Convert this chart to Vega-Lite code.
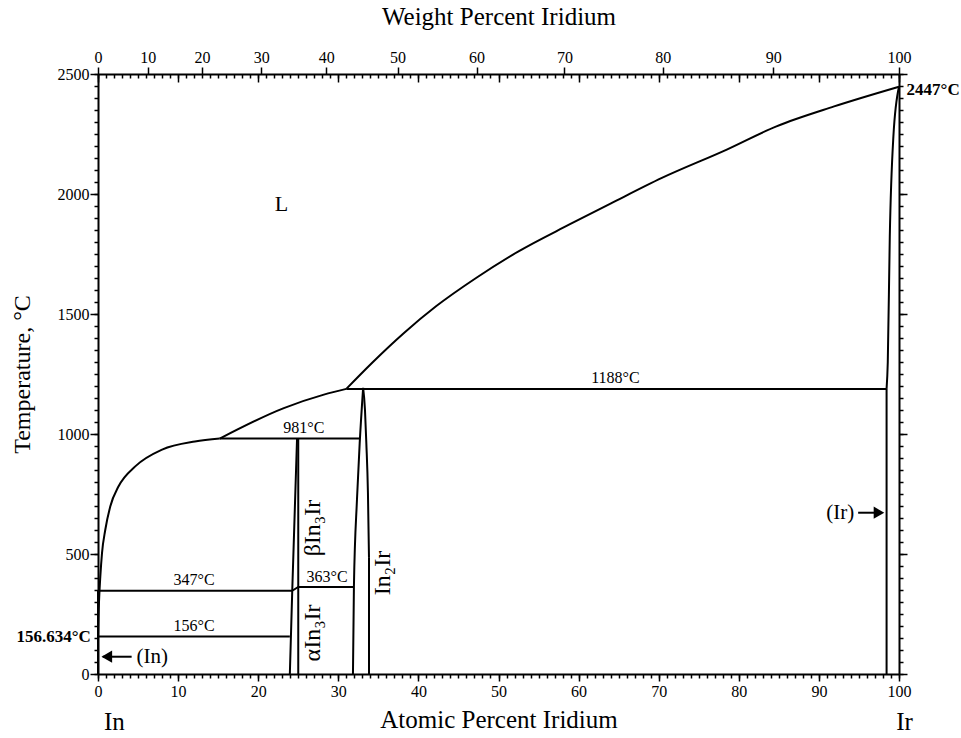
{
  "$schema": "https://vega.github.io/schema/vega-lite/v6.json",
  "width": 801,
  "height": 600,
  "autosize": {"type": "none"},
  "padding": {"left": 98, "top": 74, "right": 62, "bottom": 64},
  "background": "white",
  "config": {
    "view": {"stroke": null},
    "axis": {"grid": false, "domainColor": "black", "tickColor": "black", "labelColor": "black", "titleColor": "black", "labelFont": "Liberation Serif", "titleFont": "Liberation Serif", "titleFontWeight": "normal", "tickWidth": 1.5, "domainWidth": 2, "labelFlush": false, "labelOverlap": false},
    "text": {"font": "Liberation Serif", "color": "black"}
  },
  "datasets": {
    "lines": [
      {"seg": "e1188", "o": 1, "x": 31.0, "t": 1188},
      {"seg": "e1188", "o": 2, "x": 98.45, "t": 1188},
      {"seg": "p981", "o": 1, "x": 15.2, "t": 981},
      {"seg": "p981", "o": 2, "x": 32.6, "t": 981},
      {"seg": "e347", "o": 1, "x": 0, "t": 347},
      {"seg": "e347", "o": 2, "x": 24.25, "t": 347},
      {"seg": "e156", "o": 1, "x": 0, "t": 156},
      {"seg": "e156", "o": 2, "x": 23.95, "t": 156},
      {"seg": "t363", "o": 1, "x": 24.25, "t": 347},
      {"seg": "t363", "o": 2, "x": 25, "t": 363},
      {"seg": "t363", "o": 3, "x": 31.95, "t": 363},
      {"seg": "in3r", "o": 1, "x": 25, "t": 0},
      {"seg": "in3r", "o": 2, "x": 25, "t": 981},
      {"seg": "in3l", "o": 1, "x": 24.85, "t": 981},
      {"seg": "in3l", "o": 2, "x": 24.25, "t": 347},
      {"seg": "in3l", "o": 3, "x": 23.95, "t": 0},
      {"seg": "irv", "o": 1, "x": 98.45, "t": 0},
      {"seg": "irv", "o": 2, "x": 98.45, "t": 1188},
      {"seg": "in2v", "o": 1, "x": 33.83, "t": 0},
      {"seg": "in2v", "o": 2, "x": 33.83, "t": 487},
      {"seg": "inAxis", "o": 1, "x": 0, "t": 0},
      {"seg": "inAxis", "o": 2, "x": 0, "t": 347},
      {"seg": "arIn", "o": 1, "x": 0.6, "t": 72},
      {"seg": "arIn", "o": 2, "x": 4.2, "t": 72},
      {"seg": "arIr", "o": 1, "x": 94.9, "t": 672},
      {"seg": "arIr", "o": 2, "x": 97.2, "t": 672}
    ],
    "curves": [
      {"seg": "liqA", "o": 1, "x": 0, "t": 156.6},
      {"seg": "liqA", "o": 2, "x": 0.05, "t": 230},
      {"seg": "liqA", "o": 3, "x": 0.15, "t": 320},
      {"seg": "liqA", "o": 4, "x": 0.29, "t": 407},
      {"seg": "liqA", "o": 5, "x": 0.5, "t": 504},
      {"seg": "liqA", "o": 6, "x": 0.91, "t": 601},
      {"seg": "liqA", "o": 7, "x": 1.53, "t": 698},
      {"seg": "liqA", "o": 8, "x": 2.57, "t": 782},
      {"seg": "liqA", "o": 9, "x": 4.65, "t": 865},
      {"seg": "liqA", "o": 10, "x": 8.0, "t": 935},
      {"seg": "liqA", "o": 11, "x": 12.1, "t": 969},
      {"seg": "liqA", "o": 12, "x": 15.2, "t": 981},
      {"seg": "liqB", "o": 1, "x": 15.2, "t": 981},
      {"seg": "liqB", "o": 2, "x": 23.2, "t": 1108},
      {"seg": "liqB", "o": 3, "x": 28.2, "t": 1164},
      {"seg": "liqB", "o": 4, "x": 31.0, "t": 1188},
      {"seg": "liqC", "o": 1, "x": 31.0, "t": 1188},
      {"seg": "liqC", "o": 2, "x": 34.2, "t": 1296},
      {"seg": "liqC", "o": 3, "x": 38.2, "t": 1421},
      {"seg": "liqC", "o": 4, "x": 42.2, "t": 1532},
      {"seg": "liqC", "o": 5, "x": 47.2, "t": 1650},
      {"seg": "liqC", "o": 6, "x": 52.5, "t": 1761},
      {"seg": "liqC", "o": 7, "x": 58.8, "t": 1872},
      {"seg": "liqC", "o": 8, "x": 64.1, "t": 1962},
      {"seg": "liqC", "o": 9, "x": 70.4, "t": 2067},
      {"seg": "liqC", "o": 10, "x": 78.5, "t": 2185},
      {"seg": "liqC", "o": 11, "x": 84.7, "t": 2282},
      {"seg": "liqC", "o": 12, "x": 91.9, "t": 2365},
      {"seg": "liqC", "o": 13, "x": 100, "t": 2447},
      {"seg": "irc", "o": 1, "x": 98.45, "t": 1188},
      {"seg": "irc", "o": 2, "x": 98.6, "t": 1300},
      {"seg": "irc", "o": 3, "x": 98.85, "t": 1823},
      {"seg": "irc", "o": 4, "x": 99.3, "t": 2240},
      {"seg": "irc", "o": 5, "x": 100, "t": 2447},
      {"seg": "in2L", "o": 1, "x": 31.83, "t": 0},
      {"seg": "in2L", "o": 2, "x": 31.95, "t": 363},
      {"seg": "in2L", "o": 3, "x": 32.33, "t": 726},
      {"seg": "in2L", "o": 4, "x": 32.67, "t": 962},
      {"seg": "in2L", "o": 5, "x": 33.1, "t": 1192},
      {"seg": "in2R", "o": 1, "x": 33.1, "t": 1192},
      {"seg": "in2R", "o": 2, "x": 33.33, "t": 1101},
      {"seg": "in2R", "o": 3, "x": 33.5, "t": 962},
      {"seg": "in2R", "o": 4, "x": 33.7, "t": 755},
      {"seg": "in2R", "o": 5, "x": 33.83, "t": 487}
    ],
    "temps": [
      {"label": "1188°C", "x": 64.6, "t": 1211},
      {"label": "981°C", "x": 25.7, "t": 1003},
      {"label": "347°C", "x": 12.0, "t": 371},
      {"label": "156°C", "x": 12.0, "t": 180},
      {"label": "363°C", "x": 28.6, "t": 382}
    ],
    "phases": [
      {"label": "βIn₃Ir", "x": 26.9, "t": 608},
      {"label": "αIn₃Ir", "x": 26.9, "t": 171},
      {"label": "In₂Ir", "x": 35.6, "t": 421}
    ],
    "heads": [
      {"dir": "L", "x": 1.1, "t": 72},
      {"dir": "R", "x": 97.5, "t": 672}
    ]
  },
  "resolve": {"axis": {"x": "independent", "y": "independent"}},
  "layer": [
    {
      "data": {"name": "lines"},
      "mark": {"type": "line", "color": "black", "strokeWidth": 2, "clip": false},
      "encoding": {
        "x": {"field": "x", "type": "quantitative", "scale": {"domain": [0, 100], "nice": false, "zero": false},
          "axis": {"orient": "bottom", "values": [0, 10, 20, 30, 40, 50, 60, 70, 80, 90, 100], "tickSize": 7, "labelFontSize": 16, "labelPadding": 2, "title": "Atomic Percent Iridium", "titleFontSize": 25, "titlePadding": 8}},
        "y": {"field": "t", "type": "quantitative", "scale": {"domain": [0, 2500], "nice": false, "zero": false},
          "axis": {"orient": "left", "values": [0, 500, 1000, 1500, 2000, 2500], "format": "d", "tickSize": 8, "labelFontSize": 16, "labelPadding": 1, "title": "Temperature, °C", "titleFontSize": 24, "titlePadding": 23}},
        "detail": {"field": "seg", "type": "nominal"},
        "order": {"field": "o", "type": "quantitative"}
      }
    },
    {
      "data": {"name": "curves"},
      "mark": {"type": "line", "color": "black", "strokeWidth": 2, "interpolate": "monotone", "clip": false},
      "encoding": {
        "x": {"field": "x", "type": "quantitative", "axis": null},
        "y": {"field": "t", "type": "quantitative", "axis": null},
        "detail": {"field": "seg", "type": "nominal"},
        "order": {"field": "o", "type": "quantitative"}
      }
    },
    {
      "data": {"name": "temps"},
      "mark": {"type": "text", "fontSize": 16, "align": "center", "baseline": "alphabetic"},
      "encoding": {
        "x": {"field": "x", "type": "quantitative", "axis": {"orient": "bottom", "tickCount": 100, "tickSize": 4, "labels": false, "domain": false, "title": null}},
        "y": {"field": "t", "type": "quantitative", "axis": {"orient": "left", "tickCount": 50, "tickSize": 4, "labels": false, "domain": false, "title": null}},
        "text": {"field": "label"}
      }
    },
    {
      "data": {"values": [{"label": "L", "x": 22.9, "t": 1929}]},
      "mark": {"type": "text", "fontSize": 22, "align": "center", "baseline": "alphabetic"},
      "encoding": {
        "x": {"field": "x", "type": "quantitative", "axis": {"orient": "top", "values": [0, 10, 20, 30, 40, 50, 60, 70, 80, 90, 100], "tickSize": -8, "labels": false, "domain": true, "title": null}},
        "y": {"field": "t", "type": "quantitative", "axis": {"orient": "right", "values": [0, 500, 1000, 1500, 2000, 2500], "tickSize": 8, "labels": false, "domain": true, "title": null}},
        "text": {"field": "label"}
      }
    },
    {
      "data": {"name": "phases"},
      "mark": {"type": "text", "fontSize": 24, "angle": 270, "align": "center", "baseline": "middle"},
      "encoding": {
        "x": {"field": "x", "type": "quantitative", "axis": {"orient": "top", "tickCount": 100, "tickSize": -4, "labels": false, "domain": false, "title": null}},
        "y": {"field": "t", "type": "quantitative", "axis": {"orient": "right", "tickCount": 50, "tickSize": 4, "labels": false, "domain": false, "title": null}},
        "text": {"field": "label"}
      }
    },
    {
      "data": {"values": [{"label": "(In)", "x": 4.8, "t": 72}]},
      "mark": {"type": "text", "fontSize": 21, "align": "left", "baseline": "middle"},
      "encoding": {
        "x": {"field": "x", "type": "quantitative", "axis": {"orient": "top", "values": [0, 6.224, 12.993, 20.383, 28.481, 37.396, 47.257, 58.225, 70.496, 84.316, 100], "labelExpr": "format(100*datum.value*192.22/(datum.value*192.22+(100-datum.value)*114.82), '.0f')", "tickSize": 7, "labelFontSize": 16, "labelPadding": 2, "domain": false, "title": "Weight Percent Iridium", "titleFontSize": 25, "titlePadding": 20}},
        "y": {"field": "t", "type": "quantitative", "axis": null},
        "text": {"field": "label"}
      }
    },
    {
      "data": {"values": [{"label": "(Ir)", "x": 94.4, "t": 672}]},
      "mark": {"type": "text", "fontSize": 21, "align": "right", "baseline": "middle"},
      "encoding": {
        "x": {"field": "x", "type": "quantitative", "axis": null},
        "y": {"field": "t", "type": "quantitative", "axis": null},
        "text": {"field": "label"}
      }
    },
    {
      "data": {"values": [{"label": "156.634°C", "x": -0.9, "t": 156}]},
      "mark": {"type": "text", "fontSize": 17, "fontWeight": "bold", "align": "right", "baseline": "middle"},
      "encoding": {
        "x": {"field": "x", "type": "quantitative", "axis": null},
        "y": {"field": "t", "type": "quantitative", "axis": null},
        "text": {"field": "label"}
      }
    },
    {
      "data": {"values": [{"label": "2447°C", "x": 100.95, "t": 2433}]},
      "mark": {"type": "text", "fontSize": 17, "fontWeight": "bold", "align": "left", "baseline": "middle"},
      "encoding": {
        "x": {"field": "x", "type": "quantitative", "axis": null},
        "y": {"field": "t", "type": "quantitative", "axis": null},
        "text": {"field": "label"}
      }
    },
    {
      "data": {"values": [{"label": "In", "x": 2.05, "t": -200}, {"label": "Ir", "x": 100.7, "t": -200}]},
      "mark": {"type": "text", "fontSize": 25, "align": "center", "baseline": "middle"},
      "encoding": {
        "x": {"field": "x", "type": "quantitative", "axis": null},
        "y": {"field": "t", "type": "quantitative", "axis": null},
        "text": {"field": "label"}
      }
    },
    {
      "data": {"name": "heads"},
      "mark": {"type": "point", "filled": true, "color": "black", "opacity": 1, "size": 150},
      "encoding": {
        "x": {"field": "x", "type": "quantitative", "axis": null},
        "y": {"field": "t", "type": "quantitative", "axis": null},
        "shape": {"field": "dir", "type": "nominal", "scale": {"domain": ["L", "R"], "range": ["triangle-left", "triangle-right"]}, "legend": null}
      }
    }
  ]
}
